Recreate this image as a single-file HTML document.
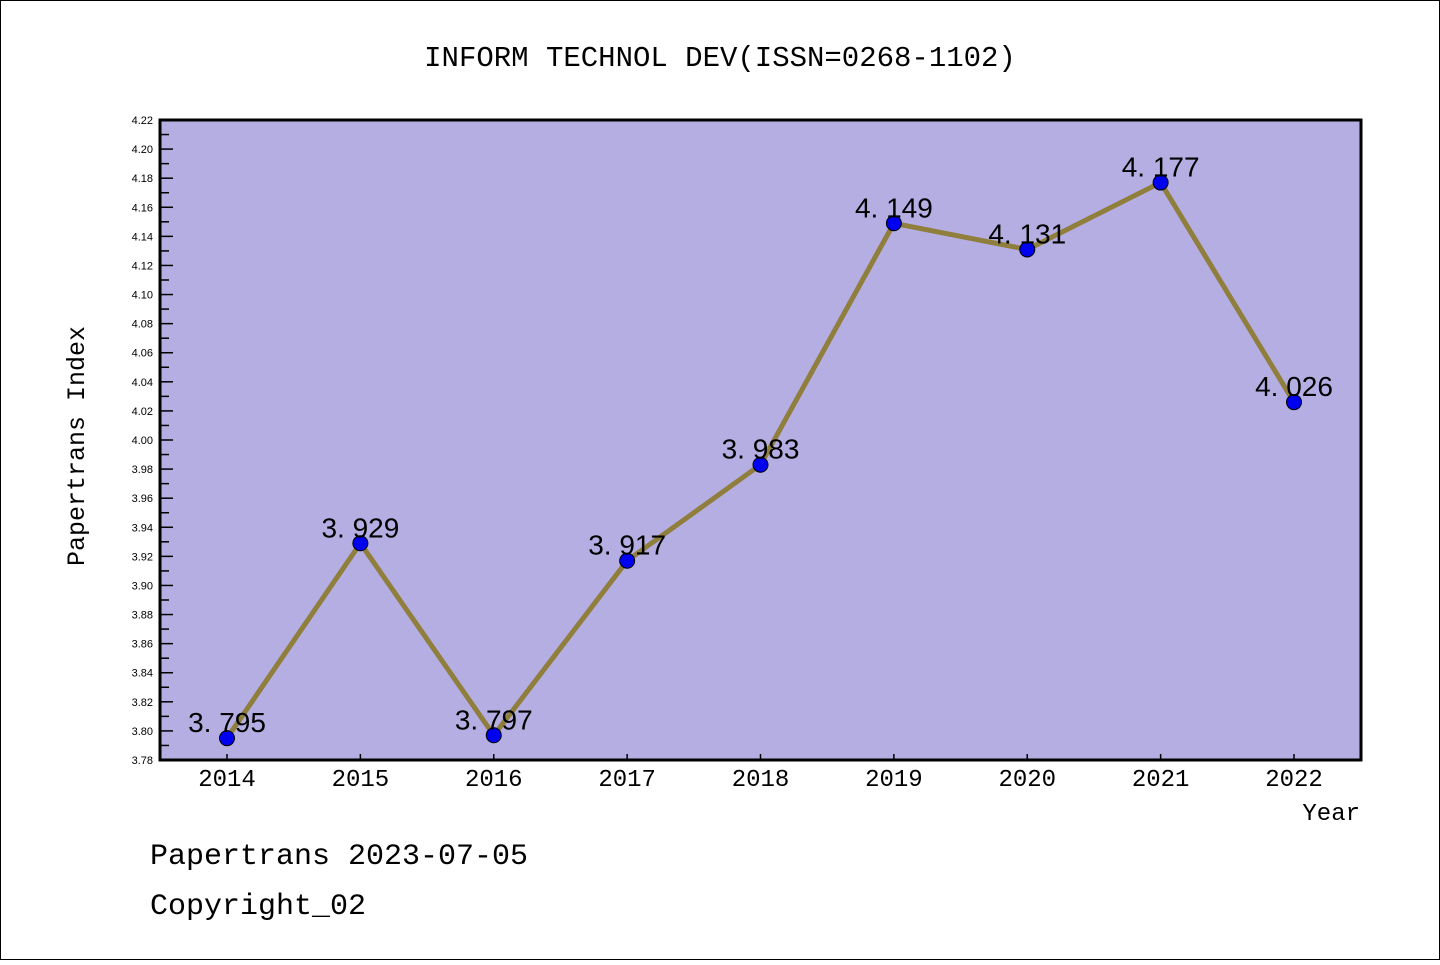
<!DOCTYPE html>
<html><head><meta charset="utf-8"><style>
body{margin:0;background:#fff}
.s{font-family:"Liberation Sans","WenQuanYi Zen Hei",sans-serif}
.m{font-family:"Liberation Mono","WenQuanYi Zen Hei",monospace}
</style></head><body>
<svg id="c" width="1440" height="960" xmlns="http://www.w3.org/2000/svg">
<rect x="0.5" y="0.5" width="1439" height="959" fill="#fff" stroke="#000"/>
<text class="m" x="720" y="66" text-anchor="middle" font-size="29">INFORM TECHNOL DEV(ISSN=0268-1102)</text>
<rect x="160" y="120" width="1201" height="640" fill="#b5aee3"/>
<g id="yt"></g><g id="xt"></g>
<polyline id="ln" fill="none" stroke="#8f7e3c" stroke-width="5"/>
<g id="pts"></g>
<rect x="160" y="120" width="1201" height="640" fill="none" stroke="#000" stroke-width="3"/>
<text class="m" transform="translate(84,446) rotate(-90)" text-anchor="middle" font-size="25">Papertrans Index</text>
<text class="m" x="1360" y="820" text-anchor="end" font-size="24">Year</text>
<text class="m" x="150" y="864" font-size="30">Papertrans 2023-07-05</text>
<text class="m" x="150" y="914" font-size="30">Copyright_02</text>
</svg>
<script>
const years=["2014","2015","2016","2017","2018","2019","2020","2021","2022"];
const values=[3.795,3.929,3.797,3.917,3.983,4.149,4.131,4.177,4.026];
const yMin=3.78,yMax=4.22;
const NS="http://www.w3.org/2000/svg";
const L=160,R=1361,T=120,B=760;
function xs(i){return 227+i*(1294-227)/(years.length-1);}
function ys(v){return B-(v-yMin)/(yMax-yMin)*(B-T);}
function mk(t,a,p){const e=document.createElementNS(NS,t);for(const k in a)e.setAttribute(k,a[k]);p.appendChild(e);return e;}
const yt=document.getElementById('yt');
for(let k=0;k<=44;k++){const v=yMin+k*0.01,y=ys(v),maj=k%2==0;
const l=mk('line',{x1:L,x2:L+(maj?13:9),y1:y,y2:y,stroke:'#000','stroke-width':1.5},yt);


if(maj){const t=mk('text',{x:153,y:y+4,'text-anchor':'end','font-size':11,'class':'s'},yt);t.textContent=v.toFixed(2);

}}
const xt=document.getElementById('xt');
years.forEach((yr,i)=>{const x=xs(i);
const l=mk('line',{x1:x,x2:x,y1:B,y2:B-6,stroke:'#000','stroke-width':1.5},xt);


const t=mk('text',{x:x,y:786,'text-anchor':'middle','font-size':24,'class':'m'},xt);t.textContent=yr;

});
document.getElementById('ln').setAttribute('points',values.map((v,i)=>xs(i)+','+ys(v)).join(' '));
const pts=document.getElementById('pts');
values.forEach((v,i)=>{const x=xs(i),y=ys(v);
const c=mk('circle',{cx:x,cy:y,r:7.5,fill:'#0000f0',stroke:'#000','stroke-width':1},pts);


const t=mk('text',{x:x,y:y-6,'text-anchor':'middle','font-size':28,'class':'s'},pts);
t.textContent=v.toFixed(3).replace('.','. ');

});
</script>
</body></html>
